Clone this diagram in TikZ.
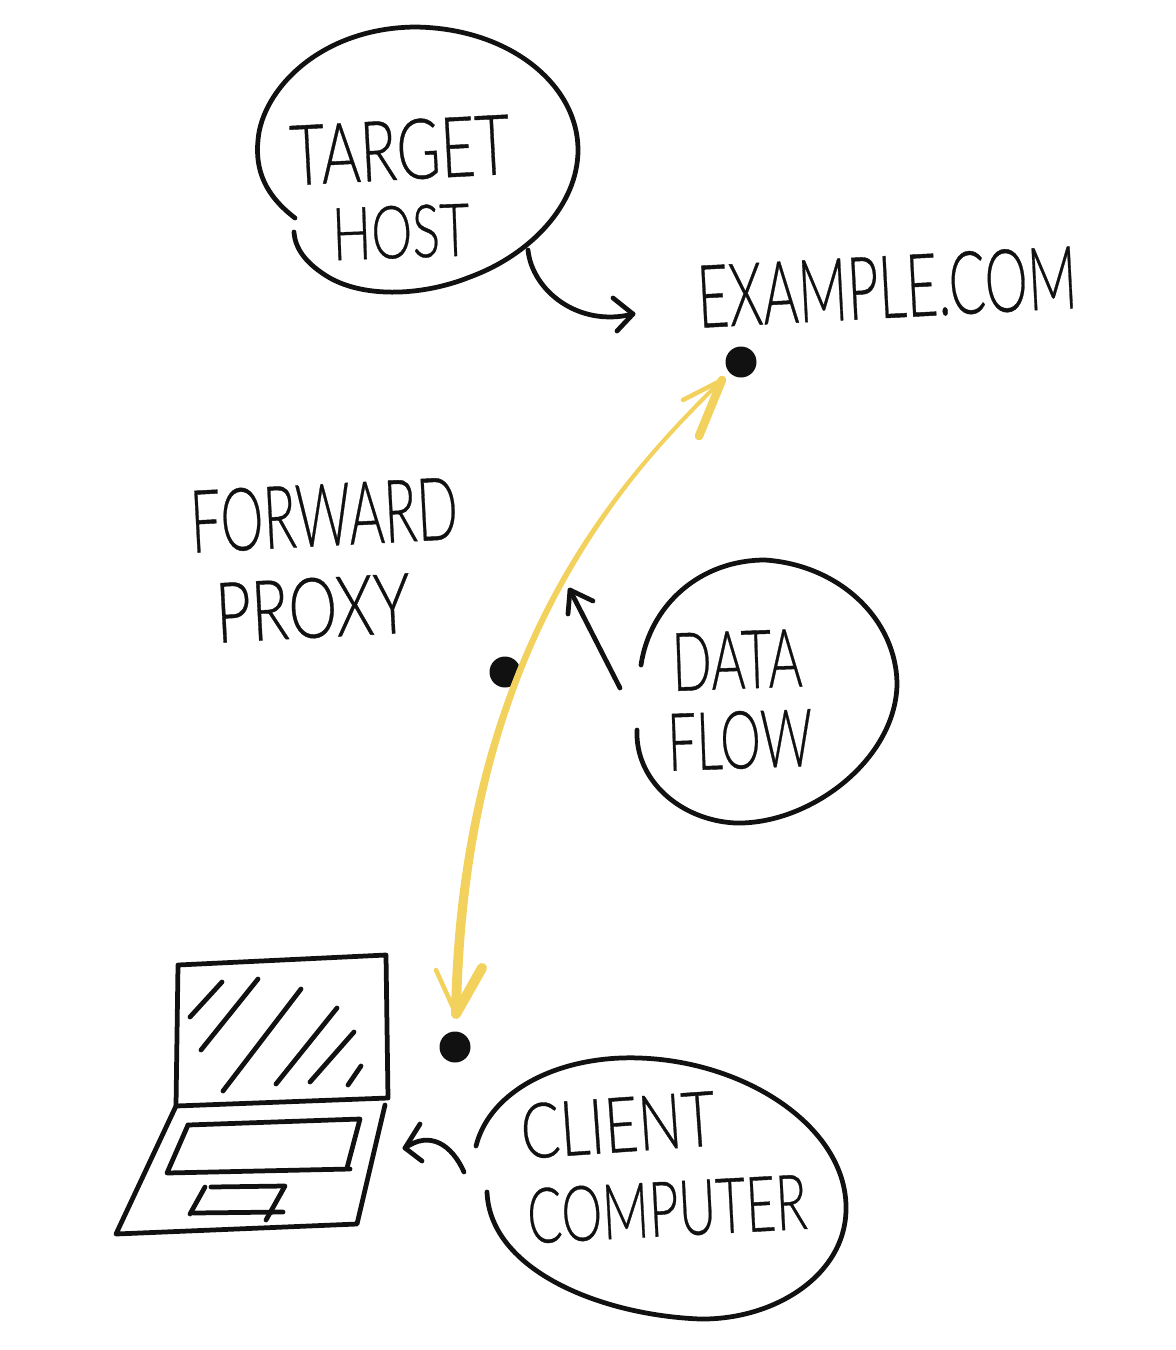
\documentclass[tikz,border=0pt]{standalone}
\usepackage{fontspec}
\newfontfamily\handfont{Lato Light}[FakeBold=0.5]
\usetikzlibrary{positioning}
\definecolor{flowyellow}{HTML}{F2D15C}
\definecolor{inkblack}{HTML}{111111}
\tikzset{
  pen/.style={
    line width=0.095cm,
    line cap=round,
    line join=round,
    inkblack
  },
  dot/.style={
    inner sep = 0pt,
    minimum size = 0.62cm,
    shape = circle,
    fill = inkblack
  },
  flow/.style={
    line width=0.08cm,
    line cap=round,
    line join=round,
    color=flowyellow
  },
  hand/.style={
    inner sep = 0pt,
    font=\handfont,
    inkblack
  },
}
% fits a word into the box it has on the sheet
\newcommand{\word}[3]{\resizebox{#1cm}{#2cm}{#3}}
\begin{document}
\begin{tikzpicture}[x=0.02cm,y=-0.02cm]
    \useasboundingbox (0,0) rectangle (1176,1350);
    \node[dot] (target) at (741,362) {};
    \node[dot] (proxy) at (505,672) {};
    \node[dot] (client) at (455,1047) {};
    \coordinate (flowtop) at (722,380);
    \coordinate (flowend) at (456,1014);
    % target bubble
    \draw[pen] (295,218) .. controls (265,195) and (255,170) .. (258,140)
      .. controls (262,90) and (320,28) .. (415,27)
      .. controls (510,28) and (578,85) .. (578,150)
      .. controls (578,205) and (530,255) .. (470,277)
      .. controls (420,297) and (360,298) .. (325,275)
      .. controls (305,262) and (295,248) .. (294,232);
    \coordinate (hosttail) at (528,250);
    \coordinate (hosthead) at (633,314);
    \draw[pen] (hosttail) .. controls (532,290) and (578,328) .. (hosthead);
    \draw[pen] (613,298) -- (hosthead) -- (617,331);
    \node[hand,rotate=3] (targetword) at (400,150) {\word{4.4}{1.2}{TARGET}};
    \node[hand,rotate=2] (hostword) at (401,232) {\word{2.75}{1.05}{HOST}};
    \node[hand,rotate=3] (exampleword) at (887,287) {\word{7.6}{1.25}{EXAMPLE.COM}};
    \node[hand,rotate=3] (forwardword) at (324,515) {\word{5.35}{1.25}{FORWARD}};
    \node[hand,rotate=3] (proxyword) at (313,608) {\word{3.9}{1.2}{PROXY}};
    % yellow path
    \draw[flow] (flowtop) .. controls (610,490) and (460,660) .. (flowend);
    \fill[flowyellow] (flowtop) .. controls (610,490) and (458,660) .. (451,1014)
      -- (461,1014) .. controls (466,662) and (612,492) .. (flowtop);
    \draw[flow,line width=0.09cm] (683,400) -- (flowtop);
    \draw[flow,line width=0.17cm] (flowtop) -- (699,436);
    \draw[flow,line width=0.09cm] (436,970) -- (flowend);
    \draw[flow,line width=0.2cm] (flowend) -- (482,968);
    % data flow bubble
    \draw[pen] (641,665) .. controls (650,605) and (700,560) .. (765,560)
      .. controls (840,565) and (897,620) .. (897,685)
      .. controls (895,760) and (810,825) .. (735,823)
      .. controls (680,820) and (635,780) .. (637,730);
    \coordinate (datatail) at (620,688);
    \coordinate (datahead) at (570,590);
    \draw[pen] (datatail) -- (datahead);
    \draw[pen] (568,614) -- (datahead) -- (593,601);
    \node[hand,rotate=2] (dataword) at (737,660) {\word{2.6}{1.15}{DATA}};
    \node[hand,rotate=2] (flowword) at (740,740) {\word{2.9}{1.15}{FLOW}};
    % laptop
    \draw[pen] (178,965) -- (386,955) -- (388,1098) -- (176,1106) -- cycle;
    \draw[pen] (176,1106) -- (116,1234) -- (357,1224) -- (385,1105);
    \draw[pen] (188,1125) -- (360,1119) -- (347,1168);
    \draw[pen] (188,1125) -- (167,1173) -- (350,1169);
    \draw[pen] (205,1187) -- (190,1214);
    \draw[pen] (211,1187) -- (285,1186) -- (266,1220);
    \draw[pen] (193,1213) -- (283,1212);
    \foreach \a/\b/\c/\d in {190/1017/222/982,201/1050/258/979,223/1091/301/989,276/1084/337/1008,310/1082/354/1032,348/1085/361/1066}{
      \draw[pen] (\a,\b) -- (\c,\d);
    }
    % client bubble
    \draw[pen] (476,1146) .. controls (490,1090) and (560,1055) .. (640,1058)
      .. controls (750,1062) and (848,1130) .. (846,1210)
      .. controls (845,1275) and (775,1320) .. (700,1319)
      .. controls (600,1315) and (490,1270) .. (487,1192);
    \coordinate (clienttail) at (464,1172);
    \coordinate (clienthead) at (405,1148);
    \draw[pen] (clienttail) .. controls (452,1145) and (430,1130) .. (clienthead);
    \draw[pen] (420,1124) -- (clienthead) -- (422,1161);
    \node[hand,rotate=4] (clientword) at (618,1125) {\word{3.9}{1.1}{CLIENT}};
    \node[hand,rotate=3] (computerword) at (667,1209) {\word{5.6}{1.1}{COMPUTER}};
\end{tikzpicture}
\end{document}
